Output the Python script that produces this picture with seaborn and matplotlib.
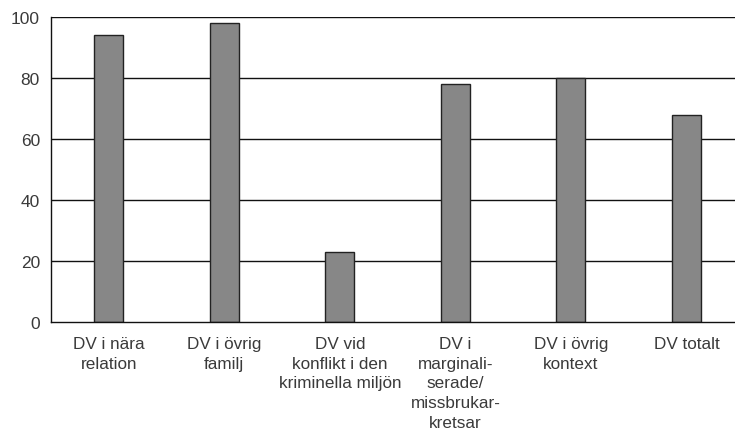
import matplotlib
matplotlib.use("Agg")
import matplotlib.pyplot as plt
import seaborn as sns
import pandas as pd

categories = [
    "DV i nära\nrelation",
    "DV i övrig\nfamilj",
    "DV vid\nkonflikt i den\nkriminella miljön",
    "DV i\nmarginali-\nserade/\nmissbrukar-\nkretsar",
    "DV i övrig\nkontext",
    "DV totalt",
]
values = [94, 98, 23, 78, 80, 68]
y_ticks = [0, 20, 40, 60, 80, 100]

df = pd.DataFrame({"kategori": categories, "andel": values})

sns.set_style("white")
plt.rcParams["font.family"] = ["Liberation Sans", "DejaVu Sans"]

fig = plt.figure(figsize=(7.35, 4.35), dpi=100)
ax = fig.add_axes([0.0694, 0.2575, 0.9306, 0.7011])

for y in y_ticks[1:]:
    ax.axhline(y, color="#111111", linewidth=1.0, zorder=0)

sns.barplot(data=df, x="kategori", y="andel", color="#878787", width=0.25,
            edgecolor="#222222", linewidth=1.0, saturation=1, ax=ax, zorder=2)

ax.set_ylim(0, 100)
ax.set_xlim(-0.5, 5.42)
ax.set_yticks(y_ticks)
ax.set_xlabel("")
ax.set_ylabel("")
ax.tick_params(axis="y", labelsize=12.5, length=0, pad=8)
ax.tick_params(axis="x", labelsize=12.3, length=0, pad=10)
for lab in ax.get_yticklabels():
    lab.set_color("#3a3a3a")
for lab in ax.get_xticklabels():
    lab.set_color("#3a3a3a")
    lab.set_linespacing(1.4)

for side in ["top", "right"]:
    ax.spines[side].set_visible(False)
for side in ["left", "bottom"]:
    ax.spines[side].set_color("#111111")
    ax.spines[side].set_linewidth(1.0)

fig.savefig("out.png", dpi=100)
